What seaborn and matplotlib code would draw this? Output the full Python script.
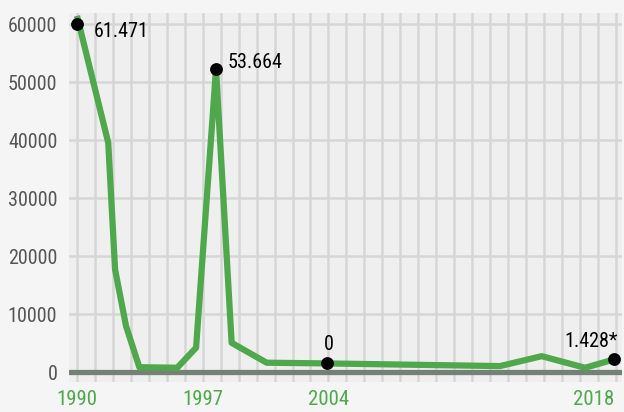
import pandas as pd
import seaborn as sns
import matplotlib.pyplot as plt

# line vertices, x measured in grid steps from 1990
x_pos = [0, 1.74, 2.12, 2.73, 3.47, 5.58, 6.63, 7.74, 8.61, 10.56, 13.9, 23.55, 25.87, 28.29, 29.9]
values = [61471, 39600, 17760, 8000, 900, 800, 4260, 52300, 5100, 1670, 1550, 1090, 2800, 800, 2240]

# highlighted points and their labels
dot_x = [0, 7.74, 13.9, 29.9]
dot_y = [60000, 52300, 1600, 2240]
dot_text = ["61.471", "53.664", "0", "1.428*"]

year_pos = [0, 7, 14, 28.75]
year_labels = ["1990", "1997", "2004", "2018"]
y_ticks = [0, 10000, 20000, 30000, 40000, 50000, 60000]

green = "#4fa84b"

sns.set_style("whitegrid", {"axes.facecolor": "#efefef", "grid.color": "#d6d6d6",
                            "axes.edgecolor": "none"})
plt.rcParams['font.family'] = ['Roboto Condensed', 'Liberation Sans Narrow', 'Roboto', 'DejaVu Sans']

fig = plt.figure(figsize=(6.24, 4.12), dpi=100, facecolor="#f5f5f5")
ax = fig.add_axes([0.111, 0.073, 0.886, 0.896])

df = pd.DataFrame({"x": x_pos, "y": values})
sns.lineplot(data=df, x="x", y="y", color=green, linewidth=4.5, ax=ax, zorder=3,
             solid_capstyle="butt", solid_joinstyle="round")

# baseline
ax.axhline(0, color="#748176", linewidth=3.8, zorder=2)

# black dots + labels
dots = pd.DataFrame({"x": dot_x, "y": dot_y})
sns.scatterplot(data=dots, x="x", y="y", color="black", s=85, linewidth=0, ax=ax, zorder=4)

offsets = [(12, -9.4), (8.6, 0.7), (1.5, 9.4), (3, 8.6)]
aligns = ["left", "left", "center", "right"]
for x, y, t, off, ha in zip(dot_x, dot_y, dot_text, offsets, aligns):
    ax.annotate(t, (x, y), xytext=off, textcoords="offset points", ha=ha,
                va="baseline", fontsize=14.5, color="black", zorder=5)

ax.set_xlim(-0.43, 30.35)
ax.set_ylim(-1640, 62000)

# year labels on major ticks, a vertical grid line every step on minor ticks
ax.xaxis.remove_overlapping_locs = False
ax.set_xticks(year_pos)
ax.set_xticklabels(year_labels)
ax.set_xticks(range(31), minor=True)
ax.set_yticks(y_ticks)
ax.set_yticklabels([str(v) for v in y_ticks])
ax.grid(False)
ax.grid(which="minor", axis="x", linewidth=1.8)
ax.grid(which="major", axis="y", linewidth=1.8)
ax.tick_params(which="both", length=0)
ax.tick_params(axis="x", pad=6, labelsize=15, labelcolor=green)
ax.tick_params(axis="y", pad=8.6, labelsize=14.5, labelcolor="#555555")
ax.set_xlabel("")
ax.set_ylabel("")
for s in ax.spines.values():
    s.set_visible(False)

fig.savefig("out.png", dpi=100, facecolor=fig.get_facecolor())
